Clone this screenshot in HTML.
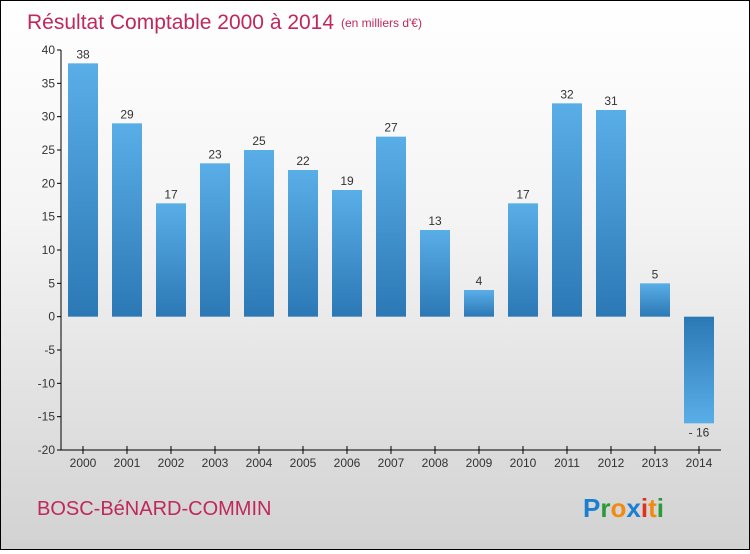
<!DOCTYPE html>
<html><head><meta charset="utf-8"><style>
html,body{margin:0;padding:0}
body{width:750px;height:550px;overflow:hidden;font-family:"Liberation Sans",sans-serif}
#wrap{position:relative;width:748px;height:548px;border:1px solid #000;background:linear-gradient(#ffffff,#f4f4f4 40%,#d2d2d2)}
</style></head><body>
<div id="wrap">
<svg id="chart" width="748" height="548"></svg>
</div>
<script>
const years=["2000","2001","2002","2003","2004","2005","2006","2007","2008","2009","2010","2011","2012","2013","2014"];
const values=[38,29,17,23,25,22,19,27,13,4,17,32,31,5,-16];
const yTicks=[40,35,30,25,20,15,10,5,0,-5,-10,-15,-20];
const NS="http://www.w3.org/2000/svg";
const svg=document.getElementById('chart');
const yMin=-20,yMax=40,topY=49,botY=449,leftX=60,rightX=720;
const band=(rightX-leftX)/years.length;
function y(v){return topY+(yMax-v)/(yMax-yMin)*(botY-topY);}
function x(i){return leftX+band*(i+0.5);}
function el(t,a,txt){const e=document.createElementNS(NS,t);for(const k in a)e.setAttribute(k,a[k]);if(txt!==undefined)e.textContent=txt;svg.appendChild(e);return e;}
const defs=document.createElementNS(NS,'defs');
defs.innerHTML='<linearGradient id="gp" x1="0" y1="0" x2="0" y2="1"><stop offset="0" stop-color="#5aaee8"/><stop offset="1" stop-color="#2b78b5"/></linearGradient><linearGradient id="gn" x1="0" y1="0" x2="0" y2="1"><stop offset="0" stop-color="#2b78b5"/><stop offset="1" stop-color="#5aaee8"/></linearGradient>';
svg.appendChild(defs);
let t=el('text',{x:26,y:28,'font-size':21,fill:'#c0285a'},'Résultat Comptable 2000 à 2014');


t=el('text',{x:340,y:26,'font-size':12,fill:'#c0285a'},'(en milliers d\'€)');


yTicks.forEach(v=>{
 const l=el('line',{x1:56,x2:60,y1:y(v),y2:y(v),stroke:'#000'});
 
 
 const tx=el('text',{x:54,y:y(v)+4,'font-size':12,fill:'#333','text-anchor':'end'},v);
 
 
});
values.forEach((v,i)=>{
 const y0=y(0),yv=y(v);
 const r=el('rect',{x:x(i)-15,y:Math.min(y0,yv),width:30,height:Math.abs(yv-y0),fill:v>=0?'url(#gp)':'url(#gn)'});
 
 
 const lb=el('text',{x:x(i),y:v>=0?yv-5:yv+13,'font-size':12,fill:'#333','text-anchor':'middle'},v<0?'- '+Math.abs(v):v);
 
 
 const tk=el('line',{x1:x(i),x2:x(i),y1:botY-4,y2:botY+4,stroke:'#000'});
 
 
 const xl=el('text',{x:x(i),y:botY+17,'font-size':12,fill:'#333','text-anchor':'middle'},years[i]);
 
 
});
let ax=el('line',{x1:leftX,x2:leftX,y1:topY,y2:botY,stroke:'#000'});


ax=el('line',{x1:leftX,x2:rightX,y1:botY,y2:botY,stroke:'#000'});


t=el('text',{x:36,y:514,'font-size':20,fill:'#c0285a'},'BOSC-BéNARD-COMMIN');


const g=el('text',{x:582,y:516,'font-size':26,'font-weight':'bold'});
g.innerHTML='<tspan fill="#1a7fd0">P</tspan><tspan fill="#2a9a3a">r</tspan><tspan fill="#f08a10">o</tspan><tspan fill="#1a7fd0">x</tspan><tspan fill="#e03020">i</tspan><tspan fill="#f08a10">t</tspan><tspan fill="#2a9a3a">i</tspan>';


</script>
</body></html>
